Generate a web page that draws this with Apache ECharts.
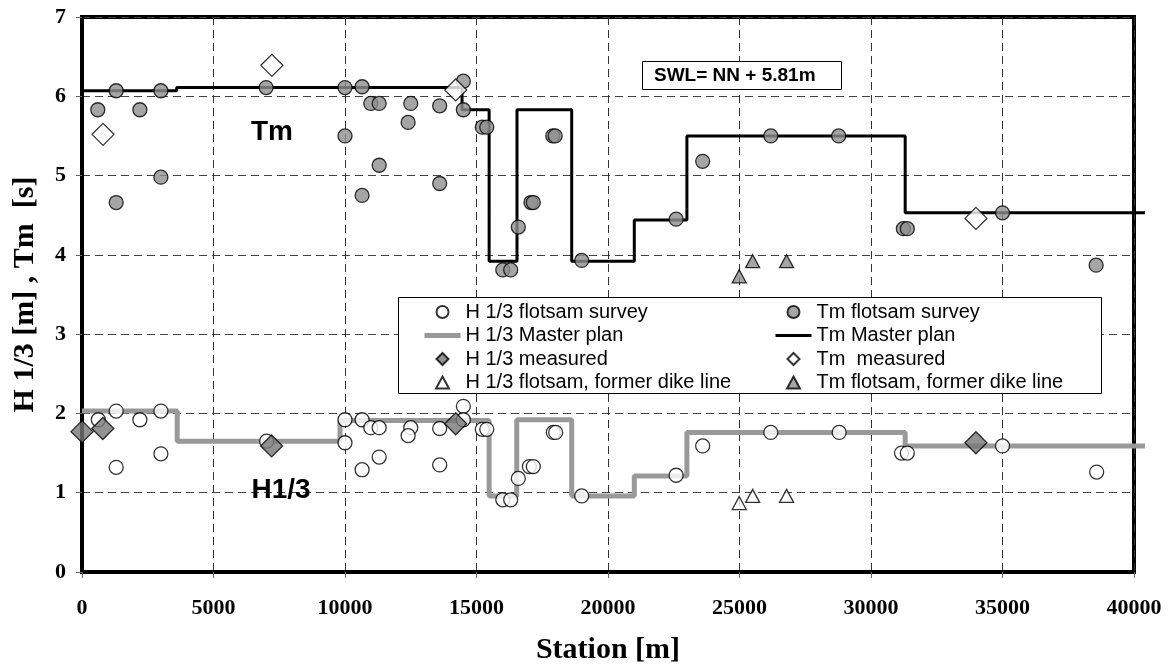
<!DOCTYPE html>
<html>
<head>
<meta charset="utf-8">
<script src="https://cdn.jsdelivr.net/npm/echarts@6/dist/echarts.min.js"></script>
<style>html,body{margin:0;padding:0;background:#fff;}#chart{width:1170px;height:666px;}</style>
</head>
<body>
<div id="chart"></div>
<script>
// ---- data ----
const xTicks = [0, 5000, 10000, 15000, 20000, 25000, 30000, 35000, 40000];
const yTicks = [0, 1, 2, 3, 4, 5, 6, 7];

// step lines: value holds from each station to the next (the plan lines run slightly past 40000)
const hMasterPlan = [[0,2.03],[3620,1.65],[9810,1.91],[15480,0.96],[16530,1.92],[18620,0.96],[21000,1.21],[23000,1.76],[31300,1.59],[40418,1.59]];
const tmMasterPlan = [[0,6.07],[3600,6.11],[14450,5.83],[15480,3.92],[16540,5.83],[18620,3.92],[21000,4.44],[23000,5.50],[31300,4.53],[40418,4.53]];

const hFlotsam = [[620,1.92],[1300,2.03],[1300,1.32],[2200,1.92],[3000,2.03],[3000,1.49],[7020,1.65],[10000,1.92],[10000,1.63],[10650,1.92],[10650,1.29],[10980,1.82],[11300,1.82],[11300,1.45],[12500,1.82],[12400,1.72],[13600,1.81],[13600,1.35],[14500,2.09],[14500,1.92],[15220,1.80],[15390,1.80],[16000,0.91],[16300,0.91],[16590,1.18],[17010,1.33],[17160,1.33],[17920,1.76],[18010,1.76],[19000,0.96],[22590,1.22],[23600,1.59],[26190,1.76],[28790,1.76],[31160,1.50],[31380,1.50],[35000,1.59],[38580,1.26]];
const tmFlotsam = [[600,5.83],[1300,6.07],[1300,4.66],[2200,5.83],[3000,6.07],[3000,4.98],[7000,6.11],[10000,6.11],[10000,5.50],[10650,6.12],[10650,4.75],[10980,5.91],[11300,5.91],[11300,5.13],[12500,5.91],[12400,5.67],[13600,5.88],[13600,4.90],[14500,6.19],[14500,5.83],[15220,5.61],[15390,5.61],[16000,3.81],[16300,3.81],[16590,4.35],[17070,4.66],[17160,4.66],[17900,5.50],[17990,5.50],[19000,3.93],[22590,4.45],[23600,5.18],[26190,5.50],[28770,5.50],[31230,4.33],[31380,4.33],[35000,4.53],[38560,3.87]];

const hMeasured = [[0,1.77],[790,1.81],[7210,1.59],[14210,1.87],[33990,1.63]];
const tmMeasured = [[800,5.52],[7220,6.39],[14210,6.08],[33990,4.46]];

const hFormerDike = [[24990,0.87],[25500,0.96],[26790,0.96]];
const tmFormerDike = [[24990,3.73],[25500,3.92],[26790,3.92]];

const names = {
  hFl: 'H 1/3 flotsam survey', hMp: 'H 1/3 Master plan', hMe: 'H 1/3 measured', hFd: 'H 1/3 flotsam, former dike line',
  tFl: 'Tm flotsam survey', tMp: 'Tm Master plan', tMe: 'Tm  measured', tFd: 'Tm flotsam, former dike line'
};

// ---- layout ----
const W = 1170, GL = 82, GR = 36, GT = 17, GB = 94, EXT = 11;
const xMin = xTicks[0], xMax = xTicks[xTicks.length - 1];
const plotW = W - GL - GR;
const xMaxExt = xMin + (xMax - xMin) * (plotW + EXT) / plotW; // same scale, wider box for overhanging plan lines

// ---- chart ----
const chart = echarts.init(document.getElementById('chart'), null, {renderer: 'canvas'});
const serif = '"Liberation Serif", "Times New Roman", serif';
const sans = '"Liberation Sans", Arial, sans-serif';
const edge = {borderColor: '#000', borderWidth: 1.3};
const diamondIcon = 'path://M0,-1L1,0L0,1L-1,0Z';
const triangleIcon = 'path://M0,-1L1.08,1L-1.08,1Z';

const legendCommon = {
  orient: 'vertical', top: 302, itemWidth: 36, itemHeight: 12, itemGap: 3.5, padding: 0, z: 10,
  symbolKeepAspect: true,
  textStyle: {fontFamily: sans, fontSize: 20, color: '#000', lineHeight: 20},
  selectedMode: false
};
const noSym = {opacity: 0};

chart.setOption({
  animation: false,
  backgroundColor: '#fff',
  grid: [
    {left: GL, right: GR, top: GT, bottom: GB, show: true, borderColor: '#000', borderWidth: 4, backgroundColor: '#fff', outerBoundsMode: 'none', containLabel: false},
    {left: GL, right: GR - EXT, top: GT, bottom: GB, show: false, outerBoundsMode: 'none', containLabel: false}
  ],
  xAxis: [{
    type: 'value', min: xMin, max: xMax, interval: 5000,
    name: 'Station [m]', nameLocation: 'middle', nameGap: 63,
    nameTextStyle: {fontFamily: serif, fontWeight: 'bold', fontSize: 30, color: '#000'},
    axisLine: {show: true, lineStyle: {color: '#000', width: 4}},
    axisTick: {show: true, length: 6, lineStyle: {color: '#666', width: 1}},
    axisLabel: {fontFamily: serif, fontWeight: 'bold', fontSize: 22, color: '#000', margin: 25,
      formatter: v => String(v)},
    splitLine: {show: true, lineStyle: {color: '#333', type: [8, 5], width: 1}}
  }, {
    gridIndex: 1, type: 'value', min: xMin, max: xMaxExt, show: false
  }],
  yAxis: [{
    type: 'value', min: yTicks[0], max: yTicks[yTicks.length - 1], interval: 1,
    name: 'H 1/3 [m] , Tm  [s]', nameLocation: 'middle', nameGap: 42,
    nameTextStyle: {fontFamily: serif, fontWeight: 'bold', fontSize: 30, color: '#000'},
    axisLine: {show: true, lineStyle: {color: '#000', width: 4}},
    axisTick: {show: true, length: 6, lineStyle: {color: '#666', width: 1}},
    axisLabel: {fontFamily: serif, fontWeight: 'bold', fontSize: 22, color: '#000', margin: 16},
    splitLine: {show: true, lineStyle: {color: '#444', type: [8, 5], width: 1}}
  }, {
    gridIndex: 1, type: 'value', min: yTicks[0], max: yTicks[yTicks.length - 1], show: false
  }],
  legend: [
    Object.assign({}, legendCommon, {left: 422, data: [
      names.hFl,
      {name: names.hMp, itemStyle: noSym, lineStyle: {width: 5, color: '#999'}},
      {name: names.hMe, icon: diamondIcon},
      {name: names.hFd, icon: triangleIcon}
    ]}),
    Object.assign({}, legendCommon, {left: 774, data: [
      names.tFl,
      {name: names.tMp, itemStyle: noSym, lineStyle: {width: 3, color: '#000'}},
      {name: names.tMe, icon: diamondIcon},
      {name: names.tFd, icon: triangleIcon}
    ]})
  ],
  graphic: [
    {type: 'rect', z: 5, shape: {x: 398.5, y: 297.5, width: 703, height: 96}, style: {fill: '#fff', stroke: '#000', lineWidth: 1}},
    {type: 'rect', z: 5, shape: {x: 642.5, y: 61.5, width: 199, height: 28}, style: {fill: '#fff', stroke: '#000', lineWidth: 1}},
    {type: 'text', z: 6, x: 654, y: 76, style: {text: 'SWL= NN + 5.81m', font: 'bold 19px ' + sans, fill: '#000', verticalAlign: 'middle', textAlign: 'left'}},
    {type: 'text', z: 6, x: 272, y: 132, style: {text: 'Tm', font: 'bold 28px ' + sans, fill: '#000', verticalAlign: 'middle', textAlign: 'center'}},
    {type: 'text', z: 6, x: 281, y: 490, style: {text: 'H1/3', font: 'bold 28px ' + sans, fill: '#000', verticalAlign: 'middle', textAlign: 'center'}}
  ],
  series: [
    {name: names.hMp, type: 'line', step: 'end', data: hMasterPlan, xAxisIndex: 1, yAxisIndex: 1, symbol: 'none', clip: false, z: 2,
     lineStyle: {color: '#999', width: 5}, itemStyle: {color: '#999'}},
    {name: names.tMp, type: 'line', step: 'end', data: tmMasterPlan, xAxisIndex: 1, yAxisIndex: 1, symbol: 'none', clip: false, z: 2,
     lineStyle: {color: '#000', width: 3}, itemStyle: {color: '#000'}},
    {name: names.hFl, type: 'scatter', data: hFlotsam, symbol: 'circle', symbolSize: 14, clip: false, z: 3,
     itemStyle: Object.assign({color: '#fff'}, edge)},
    {name: names.tFl, type: 'scatter', data: tmFlotsam, symbol: 'circle', symbolSize: 14, clip: false, z: 3,
     itemStyle: Object.assign({color: '#8f8f8f'}, edge)},
    {name: names.hFd, type: 'scatter', data: hFormerDike, symbol: 'triangle', symbolSize: [14, 13], clip: false, z: 3,
     itemStyle: Object.assign({color: '#fff'}, edge)},
    {name: names.tFd, type: 'scatter', data: tmFormerDike, symbol: 'triangle', symbolSize: [14, 13], clip: false, z: 3,
     itemStyle: Object.assign({color: '#8f8f8f'}, edge)},
    {name: names.hMe, type: 'scatter', data: hMeasured, symbol: 'diamond', symbolSize: 22, clip: false, z: 4,
     itemStyle: Object.assign({color: '#777'}, edge)},
    {name: names.tMe, type: 'scatter', data: tmMeasured, symbol: 'diamond', symbolSize: 22, clip: false, z: 4,
     itemStyle: Object.assign({color: '#fff'}, edge)}
  ]
});
</script>
</body>
</html>
